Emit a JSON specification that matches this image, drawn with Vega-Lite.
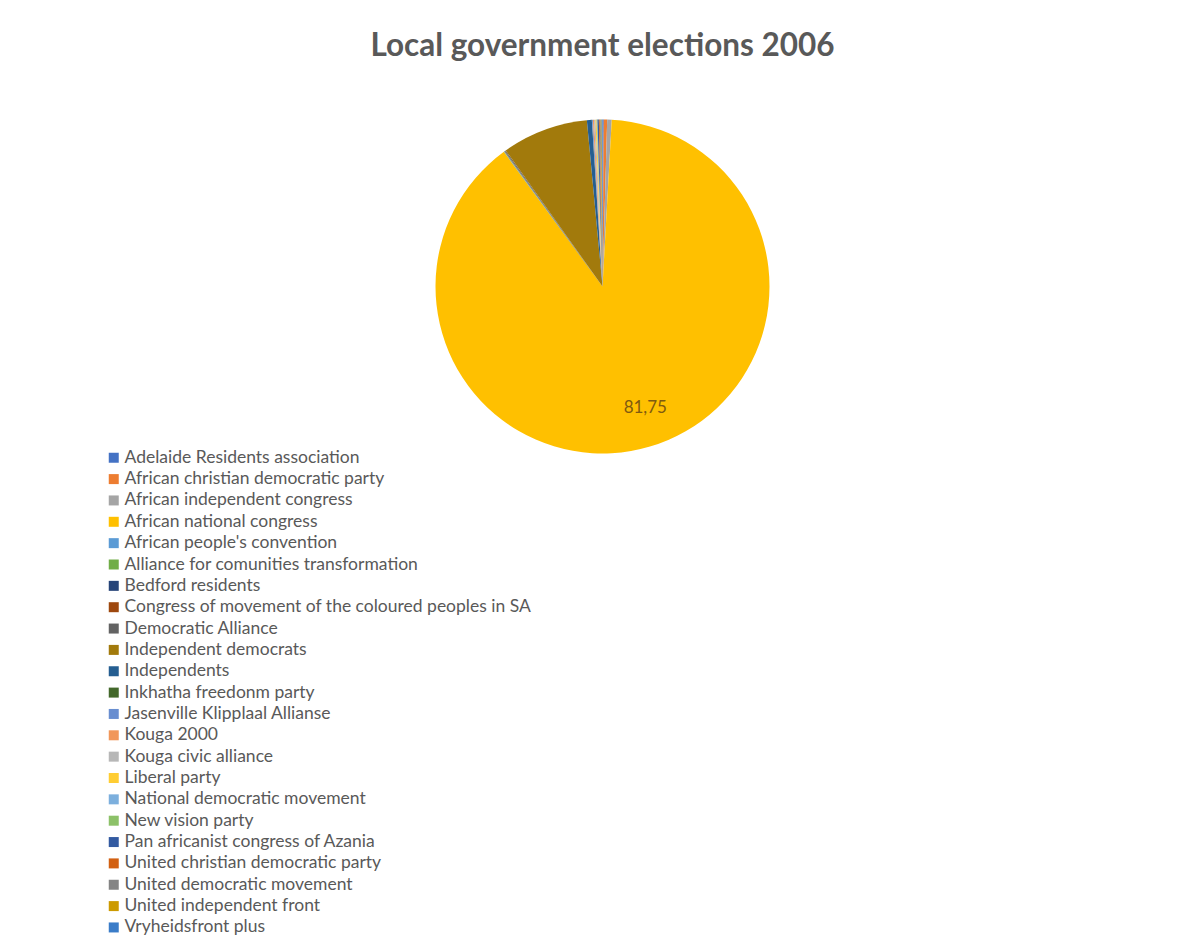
{
  "$schema": "https://vega.github.io/schema/vega-lite/v6.json",
  "width": 1179,
  "height": 413,
  "autosize": {"type": "none"},
  "padding": {"left": 13, "top": 80, "right": 0, "bottom": 448},
  "background": "white",
  "title": {"text": "Local government elections 2006", "font": "Lato", "fontSize": 31.5, "fontWeight": "bold", "color": "#595959", "anchor": "middle", "baseline": "alphabetic", "offset": -7},
  "data": {"values": [
    {"order": 1, "party": "Adelaide Residents  association", "value": 0.11, "label": ""},
    {"order": 2, "party": "African christian democratic party", "value": 0.3, "label": ""},
    {"order": 3, "party": "African independent congress", "value": 0.4, "label": ""},
    {"order": 4, "party": "African national congress", "value": 81.75, "label": "81,75"},
    {"order": 5, "party": "African people's convention", "value": 0.03, "label": ""},
    {"order": 6, "party": "Alliance for comunities transformation", "value": 0.03, "label": ""},
    {"order": 7, "party": "Bedford residents", "value": 0.03, "label": ""},
    {"order": 8, "party": "Congress of movement of the coloured peoples  in SA", "value": 0.03, "label": ""},
    {"order": 9, "party": "Democratic Alliance", "value": 0.08, "label": ""},
    {"order": 10, "party": "Independent democrats", "value": 7.66, "label": ""},
    {"order": 11, "party": "Independents", "value": 0.43, "label": ""},
    {"order": 12, "party": "Inkhatha freedonm party", "value": 0.02, "label": ""},
    {"order": 13, "party": "Jasenville Klipplaal Allianse", "value": 0.08, "label": ""},
    {"order": 14, "party": "Kouga 2000", "value": 0.1, "label": ""},
    {"order": 15, "party": "Kouga civic alliance", "value": 0.12, "label": ""},
    {"order": 16, "party": "Liberal party", "value": 0.1, "label": ""},
    {"order": 17, "party": "National democratic movement", "value": 0.04, "label": ""},
    {"order": 18, "party": "New vision party", "value": 0.04, "label": ""},
    {"order": 19, "party": "Pan africanist congress of Azania", "value": 0.12, "label": ""},
    {"order": 20, "party": "United christian  democratic party", "value": 0.08, "label": ""},
    {"order": 21, "party": "United democratic movement", "value": 0.08, "label": ""},
    {"order": 22, "party": "United independent front", "value": 0.08, "label": ""},
    {"order": 23, "party": "Vryheidsfront plus", "value": 0.08, "label": ""}
  ]},
  "encoding": {
    "theta": {"field": "value", "type": "quantitative", "stack": true},
    "order": {"field": "order", "type": "quantitative"},
    "color": {
      "field": "party",
      "type": "nominal",
      "scale": {
        "domain": ["Adelaide Residents  association", "African christian democratic party", "African independent congress", "African national congress", "African people's convention", "Alliance for comunities transformation", "Bedford residents", "Congress of movement of the coloured peoples  in SA", "Democratic Alliance", "Independent democrats", "Independents", "Inkhatha freedonm party", "Jasenville Klipplaal Allianse", "Kouga 2000", "Kouga civic alliance", "Liberal party", "National democratic movement", "New vision party", "Pan africanist congress of Azania", "United christian  democratic party", "United democratic movement", "United independent front", "Vryheidsfront plus"],
        "range": ["#4472C4", "#ED7D31", "#A5A5A5", "#FFC000", "#5B9BD5", "#70AD47", "#264478", "#9E480E", "#636363", "#A27A0C", "#255E91", "#43682B", "#698ED0", "#F1975A", "#B7B7B7", "#FFCD33", "#7CAFDD", "#8CC168", "#335AA1", "#D26012", "#848484", "#CC9A00", "#3A7CC8"]
      },
      "legend": {
        "title": null,
        "orient": "none",
        "legendX": 92,
        "legendY": 369,
        "padding": 0,
        "symbolType": "square",
        "symbolSize": 100,
        "symbolStrokeWidth": 0,
        "labelFont": "Lato",
        "labelFontSize": 17.5,
        "labelColor": "#595959",
        "labelLimit": 700,
        "labelOffset": 2,
        "rowPadding": 2.35
      }
    }
  },
  "layer": [
    {"mark": {"type": "arc", "outerRadius": 167}},
    {
      "mark": {"type": "text", "radius": 129, "font": "Lato", "fontSize": 17, "thetaOffset": -0.05},
      "encoding": {
        "text": {"field": "label", "type": "nominal"},
        "color": {"value": "#7F5A10"},
        "detail": {"field": "party", "type": "nominal"}
      }
    }
  ],
  "config": {"view": {"stroke": null}}
}
